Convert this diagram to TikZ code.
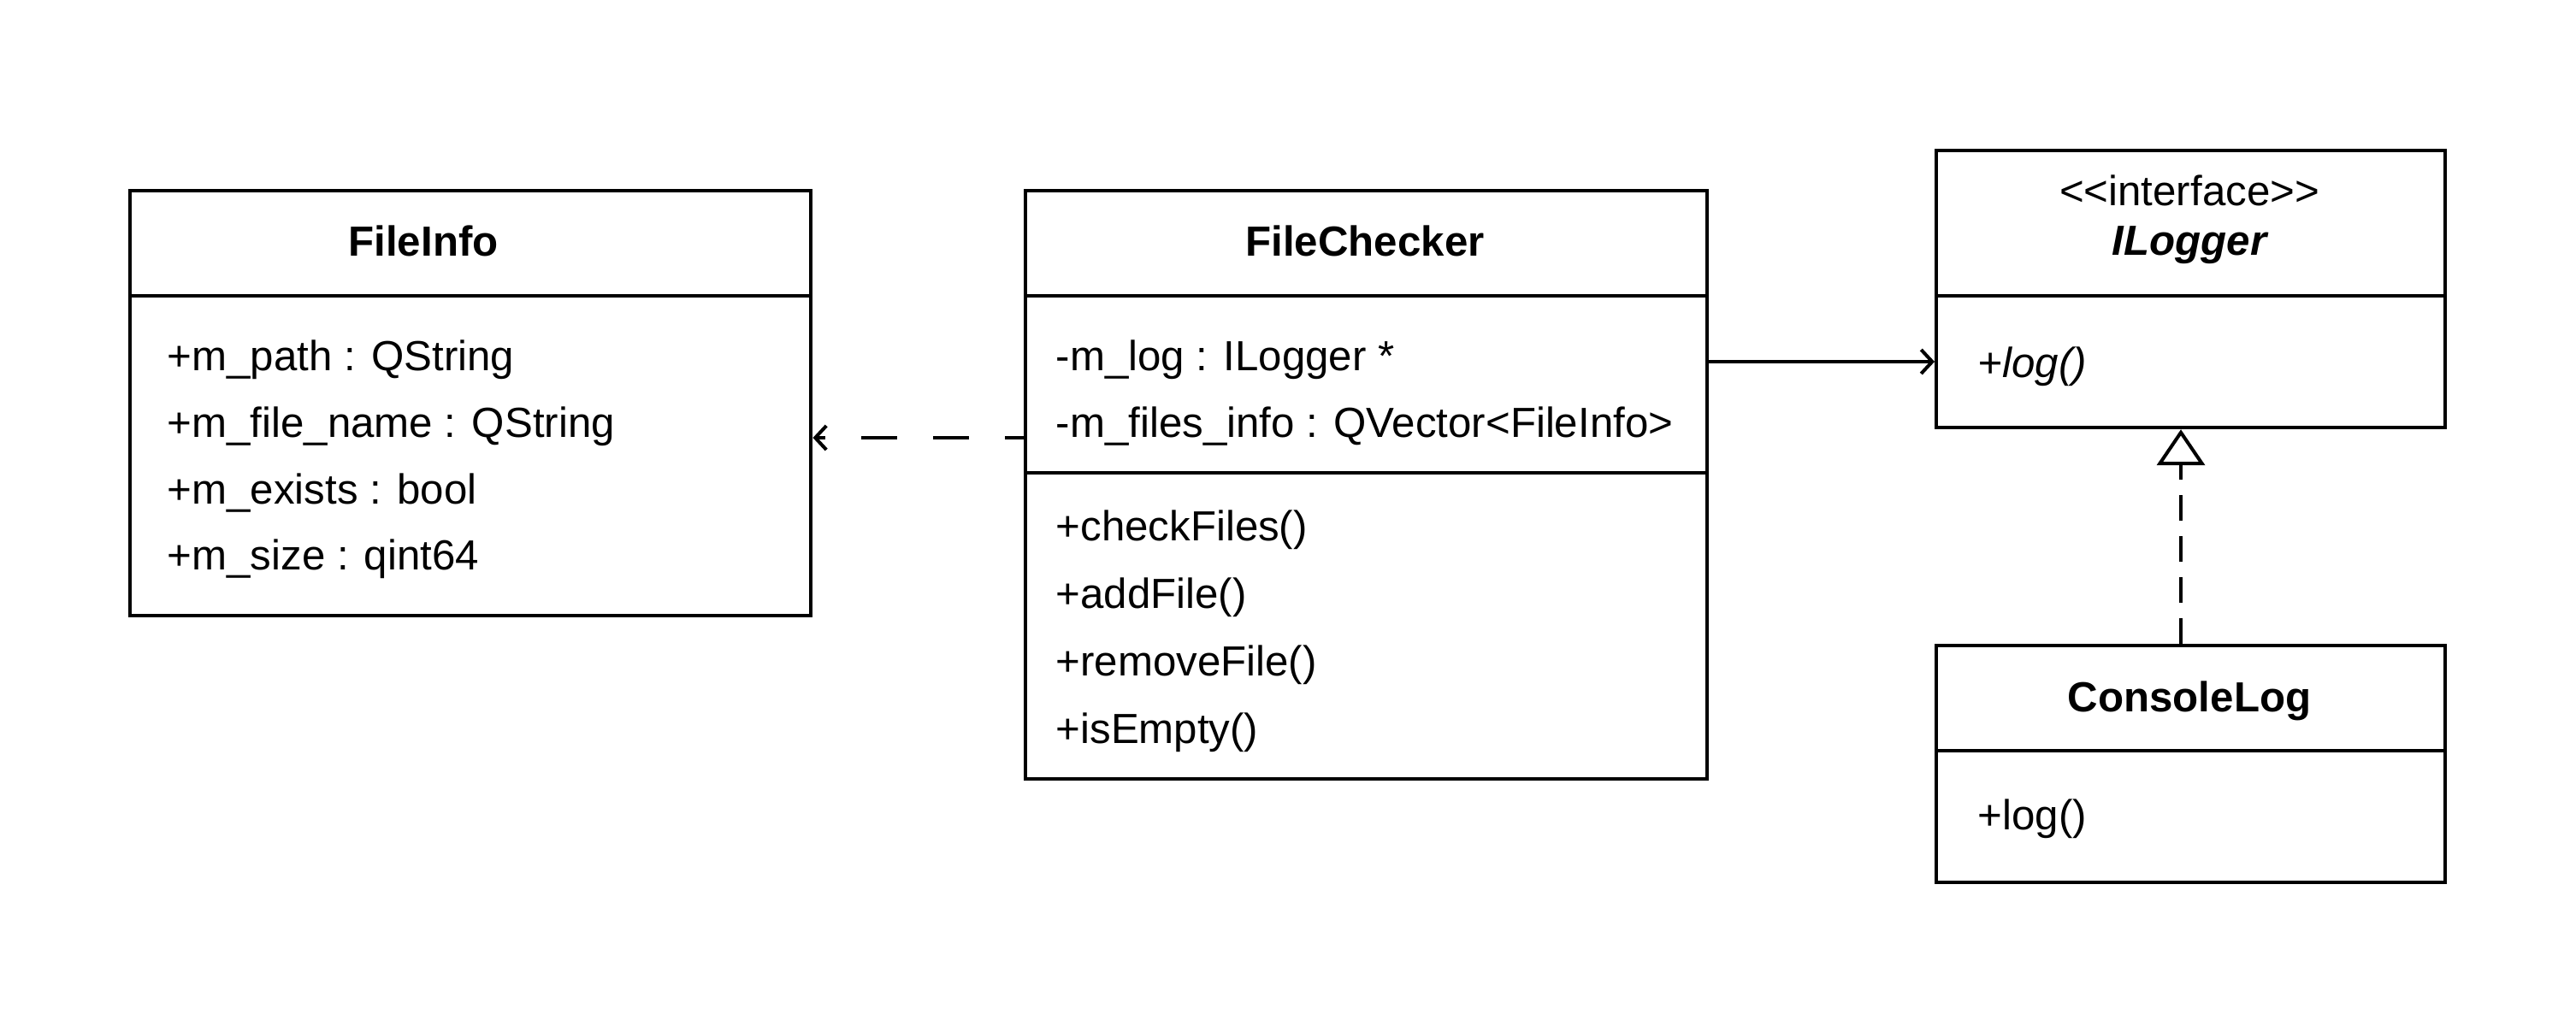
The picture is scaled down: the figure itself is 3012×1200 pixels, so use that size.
\documentclass[tikz,border=0pt]{standalone}
\usepackage{fontspec}
\setmainfont{Liberation Sans}
\usepackage{tikz}
\usetikzlibrary{arrows.meta}

\begin{document}
\begin{tikzpicture}[x=0.01cm, y=-0.01cm,
    classbox/.style={draw, line width=0.04cm, inner sep=0, anchor=north west},
    member/.style={anchor=base west, inner sep=0, font=\fontsize{14}{17}\selectfont},
    classname/.style={anchor=base, inner sep=0, font=\fontsize{14}{17}\selectfont\bfseries},
    depends/.style={line width=0.04cm, dash pattern=on 0.42cm off 0.42cm, dash phase=0.2cm,
      -{Straight Barb[length=0.13cm, width=0.28cm]}},
    assoc/.style={line width=0.04cm, -{Straight Barb[length=0.13cm, width=0.28cm]}},
    realizes/.style={line width=0.04cm, dash pattern=on 0.3cm off 0.18cm,
      -{Triangle[open, length=0.42cm, width=0.56cm]}}]

  \useasboundingbox (0, 0) rectangle (3012, 1200);

  % FileInfo
  \node[classbox, minimum width=7.96cm, minimum height=4.97cm] (fileinfo) at (150, 221) {};
  \draw[line width=0.04cm] (fileinfo.west |- 0,346) -- (fileinfo.east |- 0,346);
  \node[classname] (fi-name) at (495, 299) { FileInfo };
  \node[member] (fi-path) at (195, 433) { +m\_path : QString };
  \node[member] (fi-file) at (195, 511) { +m\_file\_name : QString };
  \node[member] (fi-exists) at (195, 589) { +m\_exists : bool };
  \node[member] (fi-size) at (195, 666) { +m\_size : qint64 };

  % FileChecker
  \node[classbox, minimum width=7.97cm, minimum height=6.88cm] (checker) at (1197, 221) {};
  \draw[line width=0.04cm] (checker.west |- 0,346) -- (checker.east |- 0,346);
  \draw[line width=0.04cm] (checker.west |- 0,553) -- (checker.east |- 0,553);
  \node[classname] (fc-name) at (1596, 299) { FileChecker };
  \node[member] (fc-log) at (1234, 433) { -m\_log : ILogger * };
  \node[member] (fc-info) at (1234, 511) { -m\_files\_info : QVector<FileInfo> };
  \node[member] (fc-check) at (1234, 632) { +checkFiles() };
  \node[member] (fc-add) at (1234, 711) { +addFile() };
  \node[member] (fc-remove) at (1234, 790) { +removeFile() };
  \node[member] (fc-empty) at (1234, 869) { +isEmpty() };

  % ILogger
  \node[classbox, minimum width=5.95cm, minimum height=3.24cm] (ilogger) at (2262, 174) {};
  \draw[line width=0.04cm] (ilogger.west |- 0,346) -- (ilogger.east |- 0,346);
  \node[classname, font=\fontsize{14}{17}\selectfont] (il-stereo) at (2560, 240) { <{}<interface>{}> };
  \node[classname, font=\fontsize{14}{17}\selectfont\bfseries\itshape] (il-name) at (2560, 298) { ILogger };
  \node[member, font=\fontsize{14}{17}\selectfont\itshape] (il-log) at (2312, 441) { +log() };

  % ConsoleLog
  \node[classbox, minimum width=5.95cm, minimum height=2.77cm] (console) at (2262, 753) {};
  \draw[line width=0.04cm] (console.west |- 0,878) -- (console.east |- 0,878);
  \node[classname] (cl-name) at (2560, 832) { ConsoleLog };
  \node[member] (cl-log) at (2312, 970) { +log() };

  % relations
  \draw[depends] (checker.west |- 0,512) -- (fileinfo.east |- 0,512);
  \draw[assoc] (checker.east |- 0,423) -- (ilogger.west |- 0,423);
  \draw[realizes] (2550,0 |- console.north) -- (2550,0 |- ilogger.south);

\end{tikzpicture}
\end{document}
